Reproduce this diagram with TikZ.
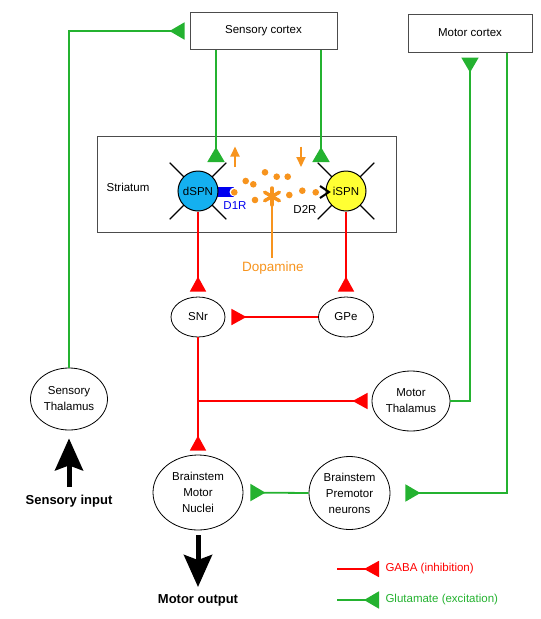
\documentclass[tikz,border=0pt]{standalone}
\usepackage{fontspec}
\setmainfont{Liberation Sans}
\usetikzlibrary{arrows.meta,shapes.geometric,calc}
\definecolor{gred}{RGB}{255,0,0}
\definecolor{ggreen}{RGB}{36,178,48}
\definecolor{dopa}{RGB}{247,148,30}
\definecolor{dcyan}{RGB}{20,176,240}
\definecolor{iyel}{RGB}{255,255,51}
\definecolor{dblue}{RGB}{0,0,240}
\begin{document}
\begin{tikzpicture}[x=1pt,y=-1pt,
  font=\fontsize{11.5}{16}\selectfont,
  box/.style={draw=black!70, line width=1pt, fill=white, inner sep=0pt},
  ell/.style={draw, ellipse, line width=0.8pt, inner sep=0pt, align=center},
  cell/.style={draw, circle, line width=1pt, minimum size=40pt, inner sep=0pt},
  spoke/.style={draw, line width=1.2pt},
  exc/.style={draw=ggreen, line width=1.8pt, -{Triangle[reversed,length=15pt,width=17pt]}},
  inh/.style={draw=gred, line width=1.8pt, -{Triangle[reversed,length=15pt,width=16pt]}},
  dopaarr/.style={draw=dopa, line width=2pt, -{Triangle[length=10pt,width=9pt]}},
  bigarr/.style={draw=black, line width=5pt, -{Stealth[length=32pt,width=28pt,inset=5pt]}},
  biglab/.style={font=\fontsize{13}{15}\selectfont\bfseries},
]
\useasboundingbox (0,0) rectangle (541,619);

% cortex boxes
\node[box, minimum width=147pt, minimum height=37pt] (sc) at (263.5,31) {Sensory cortex};
\node[box, minimum width=124pt, minimum height=38pt] (mc) at (470,33) {Motor cortex};

% striatum
\node[box, minimum width=299pt, minimum height=96pt] (str) at (246.5,184) {};
\node (strlab) at (128,187) {Striatum};

% ellipses
\node[ell, minimum width=54pt, minimum height=40pt] (snr) at (198,317) {SNr};
\node[ell, minimum width=55pt, minimum height=40pt] (gpe) at (346,317) {GPe};
\node[ell, minimum width=77pt, minimum height=62pt] (st) at (69,399) {Sensory\\Thalamus};
\node[ell, minimum width=78pt, minimum height=60pt] (mt) at (411,401) {Motor\\Thalamus};
\node[ell, minimum width=90pt, minimum height=75pt] (bmn) at (198,492.5) {Brainstem\\Motor\\Nuclei};
\node[ell, minimum width=81pt, minimum height=73pt] (bpn) at (349.5,493) {Brainstem\\Premotor\\neurons};

% cells: spokes, receptor, bodies
\coordinate (dc) at (198,191);
\coordinate (ic) at (346,191);
\foreach \a in {45,135,225,315} {
  \draw[spoke] (dc) -- ++(\a:40);
  \draw[spoke] (ic) -- ++(\a:40);
}
\fill[dblue] (214,187) rectangle (234,197);
\fill[white] (234,192) circle (4.5pt);
\node[cell, fill=dcyan] (dspn) at (dc) {dSPN};
\node[cell, fill=iyel] (ispn) at (ic) {iSPN};

% dopamine
\foreach \p in {(234.3,192.3),(245.7,181),(253.3,184.3),(265,172.3),(276.7,176.7),(287.7,176.7),(255,200),(289.3,195),(302.3,190.7),(315.7,192.3)}
  \fill[dopa] \p circle (3.3pt);
\coordinate (ast) at (272,196.5);
\node[text=dopa, font=\fontsize{13.5}{15}\selectfont] (dopl) at (273,268) {Dopamine};
\draw[dopa, line width=1.5pt] (ast) -- (ast |- dopl.north);
\foreach \a in {30,90,150,210,270,330}
  \draw[dopa, line width=3.5pt, line cap=round] (ast) -- ++(\a:8.5);
\coordinate (ua1) at (235,167); \coordinate (ua2) at (235,146.5);
\draw[dopaarr] (ua1) -- (ua2);
\coordinate (da1) at (301,146.5); \coordinate (da2) at (301,167);
\draw[dopaarr] (da1) -- (da2);
\node[text=dblue] (d1r) at (235,206) {D1R};
\node (d2r) at (305,209) {D2R};
\coordinate (chev) at (329,192);
\draw[line width=2pt] (320,186) -- (chev) -- (320,198);

% excitatory connections
\draw[exc, shorten >=5pt] (st.north) |- (sc.west);
\coordinate (dsyn) at (216,162);
\coordinate (isyn) at (321,162);
\draw[exc] (sc.south -| dsyn) -- (dsyn);
\draw[exc] (sc.south -| isyn) -- (isyn);
\draw[exc, shorten >=5pt] (mt.east) -| (mc.south);
\coordinate (mcr) at (507,493);
\draw[exc, shorten >=15pt] (mc.south -| mcr) -- (mcr) -- (bpn.east);
\draw[exc, shorten >=7pt] (bpn.west) -- (bmn.east);

% inhibitory connections
\draw[inh, shorten >=5pt] (dspn.south) -- (snr.north);
\draw[inh, shorten >=5pt] (ispn.south) -- (gpe.north);
\draw[inh, shorten >=6pt] (gpe.west) -- (snr.east);
\draw[inh, shorten >=4pt] (snr.south) -- (bmn.north);
\coordinate (jn) at (198,401);
\draw[inh, shorten >=4pt] (jn) -- (mt.west);

% input / output
\coordinate (sinb) at (69,487);
\draw[bigarr, shorten >=8pt] (sinb) -- (st.south);
\node[biglab] (sinl) at (69,501) {Sensory input};
\coordinate (moutt) at (198,587);
\draw[bigarr, shorten <=5pt] (bmn.south) -- (moutt);
\node[biglab] (moutl) at (198,600) {Motor output};

% legend
\coordinate (lr1) at (337,569); \coordinate (lr2) at (379,569);
\draw[inh] (lr1) -- (lr2);
\node[anchor=west, text=gred] (lrt) at (382,569) {GABA (inhibition)};
\coordinate (lg1) at (337,600); \coordinate (lg2) at (379,600);
\draw[exc] (lg1) -- (lg2);
\node[anchor=west, text=ggreen] (lgt) at (382,600) {Glutamate (excitation)};
\end{tikzpicture}
\end{document}
